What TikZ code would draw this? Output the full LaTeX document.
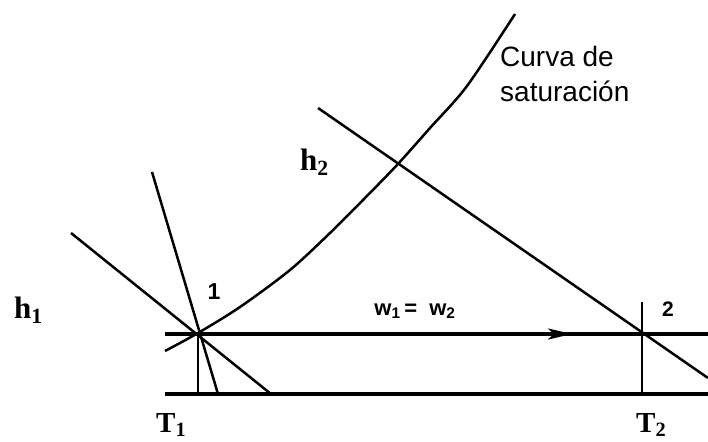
\documentclass[tikz,border=0pt]{standalone}
\usepackage{fontspec}
\setmainfont{Liberation Serif}
\setsansfont{Liberation Sans}
\usetikzlibrary{arrows.meta}
\begin{document}
\begin{tikzpicture}[x=1pt,y=-1pt,
  thick line/.style={line width=3.4pt},
  mid line/.style={line width=2.5pt},
  thin line/.style={line width=1.6pt},
  h label/.style={font=\fontsize{31}{34}\selectfont\bfseries, inner sep=0pt, anchor=base west},
  t label/.style={font=\fontsize{29}{32}\selectfont\bfseries, inner sep=0pt, anchor=base west},
  sans label/.style={font=\sffamily\fontsize{28}{35}\selectfont, inner sep=0pt, align=left},
  num label/.style={font=\sffamily\bfseries\fontsize{23}{26}\selectfont, inner sep=0pt}]
\useasboundingbox (0,0) rectangle (708,441);
% key coordinates
\coordinate (p1) at (198,334);
\coordinate (p2) at (643,334);
\coordinate (hstart) at (165,334);
\coordinate (hend) at (708,334);
\coordinate (arrowtip) at (572,334);
\coordinate (bstart) at (165,394);
\coordinate (bend) at (708,394);
% horizontal lines
\draw[thick line] (hstart) -- (hend);
\draw[thick line,-{Stealth[length=24pt,width=11pt,inset=6pt]}] (hstart) -- (arrowtip);
\draw[thick line] (bstart) -- (bend);
% vertical ticks
\coordinate (t1b) at (198,394);
\coordinate (t2t) at (642,302);
\coordinate (t2b) at (642,394);
\draw[thin line] (p1) -- (t1b);
\draw[thin line] (t2t) -- (t2b);
% h1 line and steep line
\coordinate (h1a) at (71,233);
\coordinate (h1b) at (271,394);
\draw[mid line] (h1a) -- (h1b);
\coordinate (sa) at (152,172);
\coordinate (sb) at (218,394);
\draw[mid line] (sa) -- (sb);
% h2 line
\coordinate (h2a) at (318,108);
\coordinate (h2b) at (708,378);
\draw[mid line] (h2a) -- (h2b);
% saturation curve
\draw[mid line] plot[smooth, tension=0.5] coordinates {(165,351) (198,333) (240,307) (290,270) (330,233) (363,200) (397,165) (430,128) (467,86) (515,14)};
% labels
\node[sans label, anchor=north west] (curva) at (500,46) {Curva de\\saturación};
\node[h label] (h2) at (300,170) {h\textsubscript{2}};
\node[h label] (h1) at (14,318) {h\textsubscript{1}};
\node[t label] (T1) at (156,432) {T\textsubscript{1}};
\node[t label] (T2) at (636,432) {T\textsubscript{2}};
\node[num label] (n1) at (214,292) {1};
\node[font=\sffamily\bfseries\fontsize{21}{24}\selectfont, inner sep=0pt] (n2) at (668,309) {2};
\node[font=\sffamily\bfseries\fontsize{22}{26}\selectfont, inner sep=0pt] (w) at (415,311) {w\textsubscript{1}\,= \ w\textsubscript{2}};
\end{tikzpicture}
\end{document}
